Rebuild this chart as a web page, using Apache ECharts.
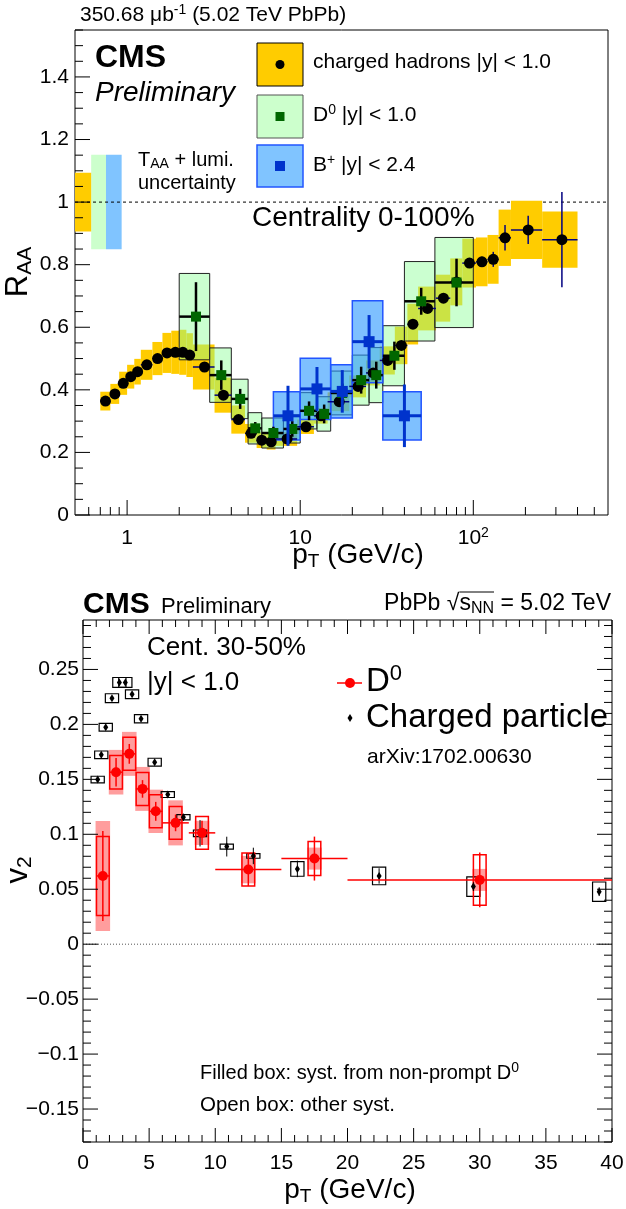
<!DOCTYPE html>
<html>
<head>
<meta charset="utf-8">
<title>CMS D0, B+ and charged-hadron R_AA and v2 in PbPb at 5.02 TeV</title>
<script src="https://cdn.jsdelivr.net/npm/echarts@6.0.0/dist/echarts.min.js"></script>
<style>
html, body { margin: 0; padding: 0; background: #fff; }
#chart { width: 626px; height: 1209px; }
</style>
</head>
<body>
<div id="chart"></div>
<script>
// ===== Upper panel: R_AA vs pT, centrality 0-100% =====
// charged hadrons |y| < 1.0
const chEdges = [0.7,0.8,0.9,1.0,1.1,1.2,1.4,1.6,1.8,2.0,2.2,2.4,3.2,4.0,4.8,5.6,6.4,7.2,9.6,12.0,14.4,19.2,24.0,28.8,35.2,41.6,48.0,60.8,73.6,86.4,103.6,120.8,140.0,165.0,250.0,400.0];
const chPt   = [0.75,0.85,0.95,1.05,1.15,1.3,1.5,1.7,1.9,2.1,2.3,2.8,3.6,4.4,5.2,6.0,6.8,8.4,10.8,13.2,16.8,21.6,26.4,32.0,38.4,44.8,54.4,67.2,80.0,95.0,112.2,130.4,152.5,207.5,325.0];
const chRaa  = [0.364,0.387,0.421,0.442,0.458,0.480,0.500,0.518,0.520,0.520,0.511,0.473,0.383,0.305,0.261,0.239,0.234,0.243,0.282,0.317,0.362,0.411,0.454,0.494,0.542,0.610,0.660,0.693,0.745,0.805,0.809,0.817,0.886,0.911,0.880];
const chStat = [0.004,0.004,0.004,0.004,0.004,0.004,0.004,0.004,0.004,0.004,0.004,0.005,0.005,0.005,0.005,0.005,0.005,0.005,0.005,0.006,0.006,0.007,0.008,0.008,0.009,0.010,0.010,0.012,0.015,0.012,0.016,0.024,0.041,0.045,0.152];
const chSyst = [0.030,0.032,0.037,0.038,0.041,0.048,0.053,0.064,0.069,0.072,0.070,0.072,0.056,0.045,0.030,0.025,0.025,0.022,0.023,0.025,0.030,0.035,0.040,0.045,0.060,0.065,0.070,0.075,0.075,0.078,0.078,0.078,0.090,0.093,0.090];

// prompt D0 |y| < 1.0
const d0Edges = [2,3,4,5,6,8,10,12.5,15,20,25,30,40,60,100];
const d0Pt    = [2.5,3.5,4.5,5.5,7,9,11.25,13.75,17.5,22.5,27.5,35,50,80];
const d0Raa   = [0.634,0.447,0.371,0.277,0.262,0.275,0.333,0.323,0.390,0.431,0.447,0.509,0.683,0.743];
const d0Stat  = [0.110,0.047,0.032,0.020,0.020,0.025,0.030,0.030,0.030,0.043,0.043,0.045,0.043,0.076];
const d0Syst  = [0.138,0.087,0.063,0.050,0.048,0.045,0.058,0.055,0.070,0.080,0.088,0.096,0.127,0.144];

// B+ |y| < 2.4
const bpEdges = [7,10,15,20,30,50];
const bpPt    = [8.5,12.5,17.5,25,40];
const bpRaa   = [0.317,0.403,0.395,0.554,0.317];
const bpStat  = [0.096,0.070,0.068,0.085,0.100];
const bpSyst  = [0.077,0.098,0.085,0.131,0.077];

// T_AA + luminosity normalisation uncertainty at R_AA = 1 (charged, D0, B+)
const normEdges = [0.5,0.62,0.755,0.93];
const normUnc   = [0.094,0.151,0.151];

// ===== Lower panel: v2 vs pT, centrality 30-50% =====
// prompt D0 |y| < 1.0
const v2d0Edges = [1,2,3,4,5,6,8,10,15,20,40];
const v2d0Pt    = [1.5,2.5,3.5,4.5,5.5,7,9,12.5,17.5,30];
const v2d0      = [0.0621,0.1565,0.1732,0.1413,0.1209,0.1104,0.1013,0.0679,0.0779,0.0585];
const v2d0Stat  = [0.041,0.013,0.009,0.008,0.0086,0.0076,0.011,0.015,0.020,0.025];
const v2d0SystOther   = [0.036,0.0152,0.015,0.015,0.015,0.015,0.015,0.015,0.0155,0.023];
const v2d0SystNonPrompt = [0.050,0.0203,0.020,0.020,0.0197,0.0205,0.011,0.0125,0.010,0.010];

// charged particles (arXiv:1702.00630)
const v2chPt   = [1.11,1.38,1.72,2.19,2.75,3.2,3.71,4.39,5.42,6.41,7.59,8.85,10.87,12.88,16.21,22.39,29.52,39.03];
const v2ch     = [0.1498,0.1723,0.1974,0.2239,0.2382,0.2382,0.2275,0.2051,0.1656,0.1362,0.1155,0.1009,0.0888,0.0803,0.0685,0.0621,0.0524,0.0478];
const v2chStat = [0.001,0.001,0.001,0.001,0.001,0.001,0.0012,0.0015,0.002,0.002,0.003,0.012,0.009,0.0075,0.0075,0.007,0.004,0.004];
const v2chSyst = [0.0030,0.0035,0.0036,0.0040,0.0045,0.0045,0.0040,0.0038,0.0036,0.0027,0.0024,0.0030,0.0023,0.0021,0.0067,0.0080,0.0088,0.0088];

// axis ranges and tick labels
const RAA_X = [0.5, 600];
const RAA_Y = [0, 1.55];
const V2_X = [0, 40];
const V2_Y = [-0.18, 0.295];
const raaXLabelVals = [1, 10, 100];
const raaXLabelText = ['1', '10', '10^2'];

// ---------------------------------------------------------------
const FONT = '"Liberation Sans", Arial, Helvetica, sans-serif';
const C = {
  yellow: '#ffcc00',
  greenSolid: '#ccffcc',
  greenBox: 'rgba(140,255,150,0.45)',
  blueSolid: '#80c4ff',
  blueBox: 'rgba(40,150,255,0.6)',
  blueEdge: '#2255ff',
  d0: '#006600',
  bp: '#0033cc',
  navy: '#000080',
  red: '#ff0000',
  pink: 'rgba(255,60,60,0.5)'
};

function seq(a, b, step) {
  const out = [];
  const n = Math.round((b - a) / step);
  for (let i = 0; i <= n; i++) out.push(+(a + i * step).toFixed(6));
  return out;
}
function without(list, remove) {
  return list.filter(v => !remove.some(r => Math.abs(r - v) < 1e-9));
}

// text with sub/superscripts: parts are strings or [text, 'sub'|'sup']
function richStyle(parts, size, align, o = {}) {
  const small = Math.round(size * (o.scale || 0.68));
  const base = { fontFamily: FONT, fontSize: size, lineHeight: Math.round(size * 1.15), fill: '#000',
                 fontWeight: o.bold ? 'bold' : 'normal', fontStyle: o.italic ? 'italic' : 'normal' };
  const rich = {
    n: base,
    sub: { fontFamily: FONT, fontSize: small, lineHeight: Math.round(small * (o.subLH || 0.75)), verticalAlign: 'bottom', fill: '#000' },
    sup: { fontFamily: FONT, fontSize: small, lineHeight: Math.round(small * (o.supLH || 0.75)), verticalAlign: 'top', fill: '#000' }
  };
  const text = parts.map(p => typeof p === 'string' ? '{n|' + p + '}' : '{' + p[1] + '|' + p[0] + '}').join('');
  return { text, rich, align, verticalAlign: 'middle', fill: '#000' };
}
function txt(x, y, parts, size, o = {}) {
  return { type: 'text', x, y, rotation: o.rot || 0, silent: true, z: 50,
           style: richStyle(parts, size, o.align || 'left', o) };
}
function labelParts(s) {
  const k = s.indexOf('^');
  return k < 0 ? [s] : [s.slice(0, k), [s.slice(k + 1), 'sup']];
}

// tick marks drawn through the axis scales
function tickSeries(xi, yi, axis, values, len, mirror, ref) {
  return {
    type: 'custom', xAxisIndex: xi, yAxisIndex: yi, silent: true, clip: false, z: 20,
    data: values.map(v => axis === 'x' ? [v, ref] : [ref, v]),
    renderItem(params, api) {
      const cs = params.coordSys;
      const segs = [];
      if (axis === 'x') {
        const x = api.coord([api.value(0), ref])[0];
        segs.push([x, cs.y + cs.height, x, cs.y + cs.height - len]);
        if (mirror) segs.push([x, cs.y, x, cs.y + len]);
      } else {
        const y = api.coord([ref, api.value(1)])[1];
        segs.push([cs.x, y, cs.x + len, y]);
        if (mirror) segs.push([cs.x + cs.width, y, cs.x + cs.width - len, y]);
      }
      return { type: 'group', children: segs.map(s => ({
        type: 'line', shape: { x1: s[0], y1: s[1], x2: s[2], y2: s[3] }, style: { stroke: '#000', lineWidth: 1 } })) };
    }
  };
}
function labelSeries(xi, yi, axis, values, texts, ref, off, size) {
  return {
    type: 'custom', xAxisIndex: xi, yAxisIndex: yi, silent: true, clip: false, z: 20,
    data: values.map(v => axis === 'x' ? [v, ref] : [ref, v]),
    renderItem(params, api) {
      const cs = params.coordSys;
      const parts = labelParts(texts[params.dataIndex]);
      if (axis === 'x') {
        const x = api.coord([api.value(0), ref])[0];
        return { type: 'text', x, y: cs.y + cs.height + off, style: richStyle(parts, size, 'center') };
      }
      const y = api.coord([ref, api.value(1)])[1];
      return { type: 'text', x: cs.x - off, y, style: richStyle(parts, size, 'right') };
    }
  };
}
// systematic boxes: item = [xlo, xhi, y, halfHeight]
function boxSeries(xi, yi, items, styleFor, z) {
  return {
    type: 'custom', xAxisIndex: xi, yAxisIndex: yi, silent: true, clip: false, z: z || 2,
    data: items,
    renderItem(params, api) {
      const a = api.coord([api.value(0), api.value(2) + api.value(3)]);
      const b = api.coord([api.value(1), api.value(2) - api.value(3)]);
      return { type: 'rect', shape: { x: a[0], y: a[1], width: b[0] - a[0], height: b[1] - a[1] },
               style: styleFor(params.dataIndex) };
    }
  };
}
// error bars: item = [xlo, xhi, x, y, err]
function errSeries(xi, yi, items, color, lw, z) {
  return {
    type: 'custom', xAxisIndex: xi, yAxisIndex: yi, silent: true, clip: false, z: z || 3,
    data: items,
    renderItem(params, api) {
      const x = api.value(2), y = api.value(3), e = api.value(4);
      const h1 = api.coord([api.value(0), y]), h2 = api.coord([api.value(1), y]);
      const v1 = api.coord([x, y + e]), v2 = api.coord([x, y - e]);
      const st = { stroke: color, lineWidth: lw };
      const kids = [{ type: 'line', shape: { x1: v1[0], y1: v1[1], x2: v2[0], y2: v2[1] }, style: st }];
      if (h2[0] - h1[0] > 0.5) kids.push({ type: 'line', shape: { x1: h1[0], y1: h1[1], x2: h2[0], y2: h2[1] }, style: st });
      return { type: 'group', children: kids };
    }
  };
}
function markerSeries(xi, yi, xs, ys, symbol, size, color, z) {
  return {
    type: 'scatter', xAxisIndex: xi, yAxisIndex: yi, silent: true, z: z || 4,
    symbol, symbolSize: size, itemStyle: { color, opacity: 1 },
    emphasis: { disabled: true },
    data: xs.map((x, i) => [x, ys[i]])
  };
}

// ---- assemble upper panel ----
const normItems = normUnc.map((u, i) => [normEdges[i], normEdges[i + 1], 1, u]);
const chBoxes = chPt.map((p, i) => [chEdges[i], chEdges[i + 1], chRaa[i], chSyst[i]]);
const d0Boxes = d0Pt.map((p, i) => [d0Edges[i], d0Edges[i + 1], d0Raa[i], d0Syst[i]]);
const bpBoxes = bpPt.map((p, i) => [bpEdges[i], bpEdges[i + 1], bpRaa[i], bpSyst[i]]);
const chErr = chPt.map((p, i) => [chEdges[i], chEdges[i + 1], p, chRaa[i], chStat[i]]);
const d0Err = d0Pt.map((p, i) => [d0Edges[i], d0Edges[i + 1], p, d0Raa[i], d0Stat[i]]);
const bpErr = bpPt.map((p, i) => [bpEdges[i], bpEdges[i + 1], p, bpRaa[i], bpStat[i]]);

const raaYMajor = seq(0, 1.4, 0.2);
const raaYMinor = without(seq(0, 1.55, 0.05), raaYMajor);
const raaXMajor = [1, 10, 100];
const raaXMinor = [0.6,0.7,0.8,0.9,2,3,4,5,6,7,8,9,20,30,40,50,60,70,80,90,200,300,400,500];

// ---- assemble lower panel ----
const v2Xhalf = 0.5;        // half width of the open systematic boxes (GeV/c)
const v2d0Filled = v2d0Pt.map((p, i) => [p - 0.55, p + 0.55, v2d0[i], v2d0SystNonPrompt[i]]);
const v2d0Open = v2d0Pt.map((p, i) => [p - 0.48, p + 0.48, v2d0[i], v2d0SystOther[i]]);
const v2chBoxes = v2chPt.map((p, i) => [p - v2Xhalf, p + v2Xhalf, v2ch[i], v2chSyst[i]]);
const v2chErr = v2chPt.map((p, i) => [p, p, p, v2ch[i], v2chStat[i]]);
const v2d0Err = v2d0Pt.map((p, i) => [v2d0Edges[i], v2d0Edges[i + 1], p, v2d0[i], v2d0Stat[i]]);

const v2XMajor = seq(0, 40, 5);
const v2XMinor = without(seq(0, 40, 1), v2XMajor);
const v2YMajor = seq(-0.15, 0.25, 0.05);
const v2YMinor = without(seq(-0.18, 0.29, 0.01), v2YMajor);
const fmtV2 = v => (v < -1e-9 ? '\u2212' : '') + String(+Math.abs(v).toFixed(2));

const series = [
  // upper panel
  boxSeries(0, 0, normItems.slice(1), i => ({ fill: i === 0 ? C.greenSolid : C.blueSolid }), 1),
  { type: 'line', xAxisIndex: 0, yAxisIndex: 0, silent: true, z: 1, symbol: 'none',
    lineStyle: { color: '#000', width: 1, type: [3, 3] }, data: [[RAA_X[0], 1], [RAA_X[1], 1]] },
  boxSeries(0, 0, normItems.slice(0, 1), () => ({ fill: C.yellow }), 1),
  boxSeries(0, 0, chBoxes, () => ({ fill: C.yellow }), 2),
  boxSeries(0, 0, d0Boxes, () => ({ fill: C.greenBox, stroke: '#222', lineWidth: 1 }), 2),
  boxSeries(0, 0, bpBoxes, () => ({ fill: C.blueBox, stroke: C.blueEdge, lineWidth: 1.5 }), 2),
  errSeries(0, 0, chErr, C.navy, 1.5, 3),
  markerSeries(0, 0, chPt, chRaa, 'circle', 11, '#000', 4),
  errSeries(0, 0, d0Err, '#000', 2.5, 5),
  markerSeries(0, 0, d0Pt, d0Raa, 'rect', 10, C.d0, 6),
  errSeries(0, 0, bpErr, C.bp, 3, 7),
  markerSeries(0, 0, bpPt, bpRaa, 'rect', 11, C.bp, 8),
  tickSeries(0, 0, 'x', raaXMajor, 15, false, 1),
  tickSeries(0, 0, 'x', raaXMinor, 8, false, 1),
  tickSeries(0, 0, 'y', raaYMajor, 15, false, 1),
  tickSeries(0, 0, 'y', raaYMinor, 8, false, 1),
  labelSeries(0, 0, 'x', raaXLabelVals, raaXLabelText, 1, 23, 21),
  labelSeries(0, 0, 'y', raaYMajor, raaYMajor.map(v => String(+v.toFixed(1))), 1, 6, 21),

  // lower panel
  { type: 'line', xAxisIndex: 1, yAxisIndex: 1, silent: true, z: 1, symbol: 'none',
    lineStyle: { color: '#555', width: 1, type: [1, 2] }, data: [[V2_X[0], 0], [V2_X[1], 0]] },
  boxSeries(1, 1, v2d0Filled, () => ({ fill: C.pink }), 2),
  boxSeries(1, 1, v2chBoxes, () => ({ fill: 'none', stroke: '#000', lineWidth: 1.2 }), 2),
  boxSeries(1, 1, v2d0Open, () => ({ fill: 'none', stroke: C.red, lineWidth: 1.5 }), 2),
  errSeries(1, 1, v2chErr, '#000', 1, 3),
  markerSeries(1, 1, v2chPt, v2ch, 'diamond', [5, 8], '#000', 4),
  errSeries(1, 1, v2d0Err, C.red, 1.5, 5),
  markerSeries(1, 1, v2d0Pt, v2d0, 'circle', 10, C.red, 6),
  tickSeries(1, 1, 'x', v2XMajor, 14, true, 0),
  tickSeries(1, 1, 'x', v2XMinor, 7, true, 0),
  tickSeries(1, 1, 'y', v2YMajor, 15, true, 1),
  tickSeries(1, 1, 'y', v2YMinor, 8, true, 1),
  labelSeries(1, 1, 'x', v2XMajor, v2XMajor.map(String), 0, 21, 21),
  labelSeries(1, 1, 'y', v2YMajor, v2YMajor.map(fmtV2), 1, 4, 21)
];

// ---- annotations ----
const mctx = document.createElement('canvas').getContext('2d');
function tw(s, size, weight) { mctx.font = (weight || 'normal') + ' ' + size + 'px ' + FONT; return mctx.measureText(s).width; }

const sqrtSize = 23, sqrtSmall = Math.round(23 * 0.68);
const sqrtParts = ['PbPb \u221A', 's', 'NN', ' = 5.02 TeV'];
const wTotal = tw(sqrtParts[0], sqrtSize) + tw(sqrtParts[1], sqrtSize) + tw(sqrtParts[2], sqrtSmall) + tw(sqrtParts[3], sqrtSize);
const olX0 = 611 - wTotal + tw(sqrtParts[0], sqrtSize);
const olX1 = olX0 + tw(sqrtParts[1], sqrtSize) + tw(sqrtParts[2], sqrtSmall);

const graphic = [
  // upper panel texts
  txt(80, 15, ['350.68 \u03BCb', ['-1', 'sup'], ' (5.02 TeV PbPb)'], 21),
  txt(95, 58, ['CMS'], 32, { bold: true }),
  txt(95, 93, ['Preliminary'], 28, { italic: true }),
  { type: 'rect', shape: { x: 257, y: 43, width: 46, height: 43 }, style: { fill: C.yellow, stroke: '#000', lineWidth: 1 }, silent: true },
  { type: 'circle', shape: { cx: 280, cy: 64.5, r: 4.5 }, style: { fill: '#000' }, silent: true },
  { type: 'rect', shape: { x: 257, y: 95, width: 46, height: 43 }, style: { fill: C.greenSolid, stroke: '#555', lineWidth: 1 }, silent: true },
  { type: 'rect', shape: { x: 275.5, y: 112, width: 9, height: 9 }, style: { fill: C.d0 }, silent: true },
  { type: 'rect', shape: { x: 257, y: 145, width: 46, height: 42 }, style: { fill: C.blueSolid, stroke: C.blueEdge, lineWidth: 1.5 }, silent: true },
  { type: 'rect', shape: { x: 275, y: 161, width: 10, height: 10 }, style: { fill: C.bp }, silent: true },
  txt(313, 62, ['charged hadrons |y| < 1.0'], 21),
  txt(313, 115, ['D', ['0', 'sup'], ' |y| < 1.0'], 21),
  txt(313, 165, ['B', ['+', 'sup'], ' |y| < 2.4'], 21),
  txt(138, 160, ['T', ['AA', 'sub'], ' + lumi.'], 20),
  txt(138, 183, ['uncertainty'], 20),
  txt(252, 218, ['Centrality 0-100%'], 28),
  txt(18, 272, ['R', ['AA', 'sub']], 31, { rot: Math.PI / 2, align: 'center' }),
  txt(358, 555, ['p', ['T', 'sub'], ' (GeV/c)'], 28, { align: 'center' }),

  // lower panel texts
  txt(83, 605, ['CMS'], 30, { bold: true }),
  txt(161, 607, ['Preliminary'], 22),
  txt(611, 604, sqrtParts.slice(0, 2).concat([[sqrtParts[2], 'sub'], sqrtParts[3]]), sqrtSize, { align: 'right' }),
  { type: 'line', shape: { x1: olX0, y1: 592, x2: olX1, y2: 592 }, style: { stroke: '#000', lineWidth: 1 }, silent: true },
  txt(147, 648, ['Cent. 30-50%'], 26),
  txt(147, 683, ['|y| < 1.0'], 26),
  { type: 'line', shape: { x1: 337, y1: 683, x2: 362, y2: 683 }, style: { stroke: C.red, lineWidth: 1.5 }, silent: true },
  { type: 'circle', shape: { cx: 350, cy: 683, r: 5 }, style: { fill: C.red }, silent: true },
  txt(366, 682, ['D', ['0', 'sup']], 33),
  { type: 'polygon', shape: { points: [[350, 714], [352.5, 718], [350, 722], [347.5, 718]] }, style: { fill: '#000' }, silent: true },
  txt(366, 718, ['Charged particle'], 33),
  txt(367, 757, ['arXiv:1702.00630'], 21),
  txt(200, 1073, ['Filled box: syst. from non-prompt D', ['0', 'sup']], 20),
  txt(200, 1105, ['Open box: other syst.'], 20.5),
  txt(18, 870, ['v', ['2', 'sub']], 31, { rot: Math.PI / 2, align: 'center' }),
  txt(350, 1190, ['p', ['T', 'sub'], ' (GeV/c)'], 28, { align: 'center' })
];

const chart = echarts.init(document.getElementById('chart'), null, { renderer: 'canvas' });
chart.setOption({
  animation: false,
  backgroundColor: '#fff',
  tooltip: { show: false },
  grid: [
    { left: 75, top: 30, width: 533, height: 485, show: true, borderColor: '#000', borderWidth: 1,
      backgroundColor: 'rgba(0,0,0,0)', outerBoundsMode: 'none', containLabel: false },
    { left: 83, top: 620, width: 529, height: 522, show: true, borderColor: '#000', borderWidth: 1,
      backgroundColor: 'rgba(0,0,0,0)', outerBoundsMode: 'none', containLabel: false }
  ],
  xAxis: [
    { gridIndex: 0, type: 'log', logBase: 10, min: RAA_X[0], max: RAA_X[1], show: false },
    { gridIndex: 1, type: 'value', min: V2_X[0], max: V2_X[1], show: false }
  ],
  yAxis: [
    { gridIndex: 0, type: 'value', min: RAA_Y[0], max: RAA_Y[1], show: false },
    { gridIndex: 1, type: 'value', min: V2_Y[0], max: V2_Y[1], show: false }
  ],
  series,
  graphic
});
</script>
</body>
</html>
